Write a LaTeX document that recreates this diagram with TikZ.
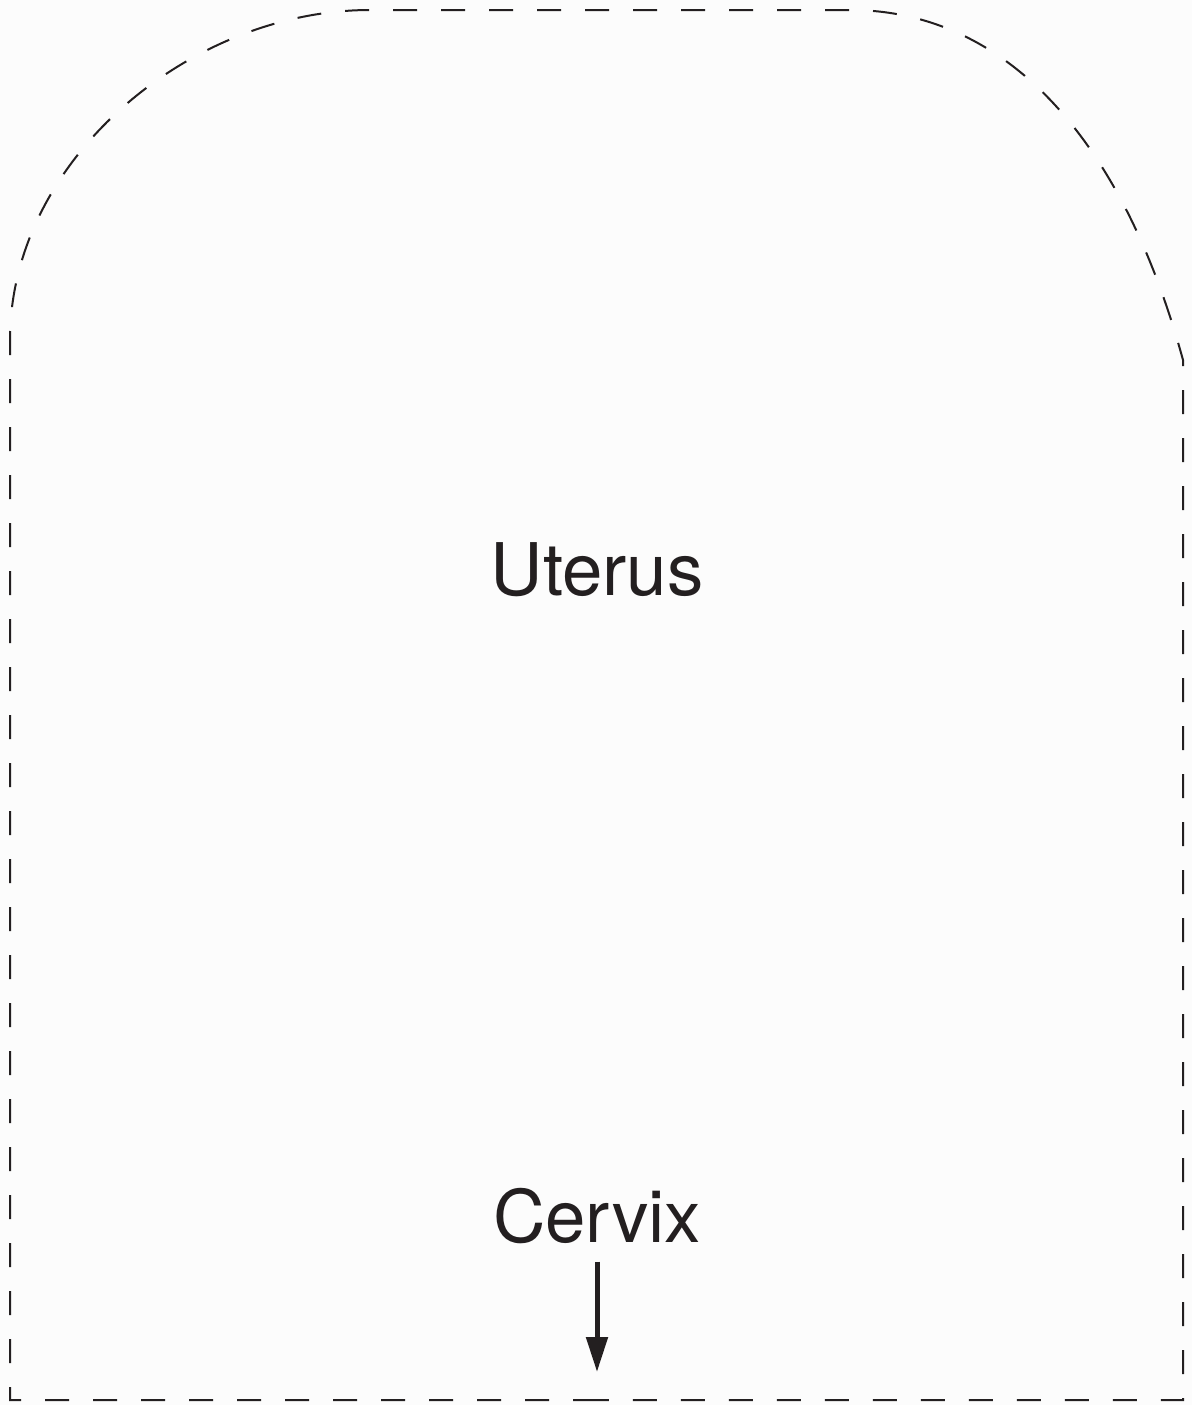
\documentclass[tikz,border=0pt]{standalone}
\usepackage{fontspec}
\setmainfont{TeX Gyre Heros}
\usepackage{xcolor}
\usepackage{tikz}
\usetikzlibrary{positioning, arrows.meta}

\definecolor{ink}{RGB}{35,31,32}
\definecolor{paper}{RGB}{252,252,252}

\begin{document}
\begin{tikzpicture}[
        x=0.5pt, y=-0.5pt,
        outline/.style={draw=ink, line width=1pt, dash pattern=on 12pt off 12pt},
        organ/.style={inner sep=0pt, text=ink, font=\fontsize{36.3}{43}\selectfont},
        arr/.style={draw=ink, line width=2.5pt, -{Triangle[length=17.5pt, width=10.5pt]}},
    ]
        \fill[paper] (0,0) rectangle (1192,1405);
        \useasboundingbox (0,0) rectangle (1192,1405);

        % Outline of the uterus
        \draw[outline] (597,1400) -- (10,1400) -- (10,340)
            .. controls (10,160) and (190,10) .. (370,10)
            -- (850,10)
            .. controls (1000,10) and (1120,130) .. (1183,360)
            -- (1183,1400) -- (597,1400);

        % Labels
        \node[organ, anchor=base] (uterus) at (597,595) {Uterus};
        \node[organ, anchor=base] (cervix) at (597,1242) {Cervix};

        % Arrow to the os
        \coordinate (os) at (597,1372);
        \draw[arr] ([yshift=-9pt]cervix.south) -- (os);

    \end{tikzpicture}
\end{document}
